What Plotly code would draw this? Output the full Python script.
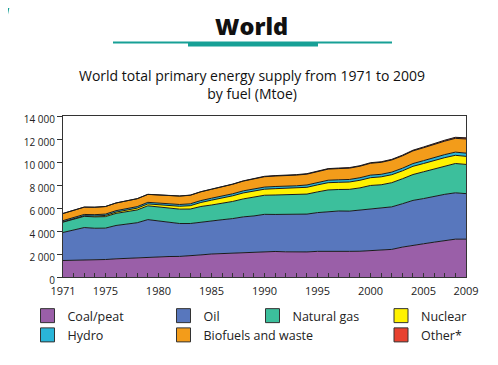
import plotly.graph_objects as go

years = list(range(1971, 2010))

coal = [1436, 1450, 1480, 1490, 1520, 1580, 1620, 1660, 1740, 1780,
        1780, 1790, 1830, 1920, 2000, 2040, 2080, 2150, 2180, 2220,
        2220, 2190, 2180, 2180, 2230, 2250, 2240, 2230, 2240, 2300,
        2320, 2400, 2600, 2770, 2890, 3030, 3170, 3290, 3290]
oil = [2437, 2620, 2820, 2750, 2730, 2900, 2980, 3060, 3250, 3100,
       2960, 2860, 2820, 2860, 2870, 2940, 3000, 3080, 3130, 3230,
       3220, 3250, 3240, 3290, 3370, 3440, 3500, 3500, 3580, 3650,
       3660, 3700, 3770, 3890, 3930, 3980, 4020, 4030, 3960]
gas = [895, 935, 975, 990, 1000, 1050, 1080, 1110, 1200, 1230,
       1240, 1250, 1260, 1350, 1390, 1420, 1490, 1560, 1620, 1660,
       1690, 1700, 1730, 1740, 1800, 1880, 1870, 1890, 1930, 2010,
       2040, 2100, 2170, 2250, 2330, 2400, 2480, 2550, 2540]
nuclear = [29, 40, 53, 72, 100, 115, 140, 160, 165, 186,
           220, 250, 290, 350, 420, 455, 490, 520, 530, 526,
           550, 560, 580, 590, 610, 630, 625, 640, 660, 675,
           690, 695, 690, 715, 720, 728, 710, 712, 703]
hydro = [104, 108, 110, 118, 120, 122, 125, 132, 137, 148,
         152, 155, 162, 166, 170, 173, 177, 181, 184, 184,
         190, 190, 200, 203, 210, 215, 218, 220, 222, 225,
         220, 225, 228, 240, 250, 260, 265, 275, 280]
biofuels = [620, 628, 636, 645, 655, 665, 675, 685, 690, 700,
            715, 730, 745, 760, 775, 800, 825, 850, 875, 900,
            910, 920, 930, 940, 955, 965, 975, 985, 1000, 1030,
            1040, 1055, 1075, 1100, 1120, 1145, 1170, 1200, 1230]
other = [5, 5, 6, 6, 6, 7, 7, 8, 8, 10,
         11, 12, 13, 14, 15, 16, 17, 18, 20, 36,
         37, 38, 40, 42, 43, 44, 45, 46, 47, 50,
         52, 55, 58, 62, 68, 75, 82, 90, 100]

series_names = ["Coal/peat", "Oil", "Natural gas", "Nuclear", "Hydro",
                "Biofuels and waste", "Other*"]
series_values = [coal, oil, gas, nuclear, hydro, biofuels, other]
series_colors = ["#9a5fa8", "#5877bd", "#3cbf9c", "#fff200", "#2ab5d8",
                 "#f39c1a", "#e8412f"]
legend_ids = ["legend", "legend2", "legend3", "legend4", "legend", "legend2", "legend4"]

y_tick_vals = [0, 2000, 4000, 6000, 8000, 10000, 12000, 14000]
y_tick_text = ["0", "2 000", "4 000", "6 000", "8 000", "10 000", "12 000", "14 000"]
x_tick_vals = [1971, 1975, 1980, 1985, 1990, 1995, 2000, 2005, 2009]
x_tick_text = [str(v) for v in x_tick_vals]

FONT = "Open Sans"
TEAL = "#17a096"

fig = go.Figure()
for name, vals, col in zip(series_names, series_values, series_colors):
    fig.add_trace(go.Scatter(
        x=years, y=vals, name=name, stackgroup="one", mode="lines",
        line=dict(color="#1a1a1a", width=1), fillcolor=col,
        showlegend=False, hoverinfo="x+y+name"))

for name, col, lid in zip(series_names, series_colors, legend_ids):
    fig.add_trace(go.Scatter(
        x=[None], y=[None], name=name, mode="markers", legend=lid,
        marker=dict(symbol="square", size=14, color=col,
                    line=dict(color="#333333", width=1))))

# page body has an 8px margin; work in screen pixels and convert
OFF = 8
W, H = 498 - OFF, 365 - OFF
L, R, T, B = 63 - OFF, 498 - 466, 116 - OFF, 365 - 277
pw, ph = W - L - R, H - T - B


def px(x):
    return (x - OFF - L) / pw


def py(y):
    return (H - B - (y - OFF)) / ph


legend_common = dict(orientation="v", yanchor="top", xanchor="left",
                     font=dict(family=FONT, size=12.5, color="#222222"),
                     bgcolor="rgba(0,0,0,0)", tracegroupgap=0,
                     traceorder="normal", itemsizing="trace")

fig.update_layout(
    width=W, height=H,
    margin=dict(l=L, r=R, t=T, b=B, autoexpand=False),
    paper_bgcolor="white", plot_bgcolor="white",
    font=dict(family=FONT, color="#222222"),
    xaxis=dict(range=[1971, 2009], tickvals=x_tick_vals, ticktext=x_tick_text,
               ticks="inside", ticklen=4, tickcolor="#333",
               showline=True, linecolor="#333", linewidth=1, mirror=True,
               showgrid=False, zeroline=False, ticklabelstandoff=4,
               tickfont=dict(family=FONT, size=11, color="#222"),
               minor=dict(dtick=1, tick0=1971, ticks="inside", ticklen=4,
                          tickcolor="#333", showgrid=False)),
    yaxis=dict(range=[0, 14000], tickvals=y_tick_vals, ticktext=y_tick_text,
               ticks="outside", ticklen=5, tickcolor="#333",
               showline=True, linecolor="#333", linewidth=1, mirror=True,
               showgrid=False, zeroline=False, ticklabelshift=3,
               tickfont=dict(family=FONT, size=10, color="#222")),
    legend=dict(x=px(27.5), y=py(301), **legend_common),
    legend2=dict(x=px(163.5), y=py(301), **legend_common),
    legend3=dict(x=px(252.5), y=py(301), **legend_common),
    legend4=dict(x=px(381), y=py(301), **legend_common),
)

fig.add_annotation(text="World", x=px(251), y=py(26), xref="paper", yref="paper",
                   showarrow=False, font=dict(family=FONT, size=23.5, weight=800, color="#111"),
                   xanchor="center", yanchor="middle")
fig.add_annotation(text="World total primary energy supply from 1971 to 2009<br>by fuel (Mtoe)",
                   x=px(252), y=py(84), xref="paper", yref="paper", showarrow=False,
                   font=dict(family=FONT, size=14, color="#111"),
                   xanchor="center", yanchor="middle", align="center")

fig.add_shape(type="line", xref="paper", yref="paper",
              x0=px(113), x1=px(392), y0=py(42.5), y1=py(42.5),
              line=dict(color=TEAL, width=2))
fig.add_shape(type="rect", xref="paper", yref="paper",
              x0=px(188), x1=px(318), y0=py(42), y1=py(46.5),
              line=dict(width=0), fillcolor=TEAL)
fig.add_shape(type="path", xref="paper", yref="paper",
              path=f"M {px(9)} {py(-2)} Q {px(4)} {py(20)} {px(0)} {py(45)}",
              line=dict(color=TEAL, width=5))

fig.write_html("out.html")
